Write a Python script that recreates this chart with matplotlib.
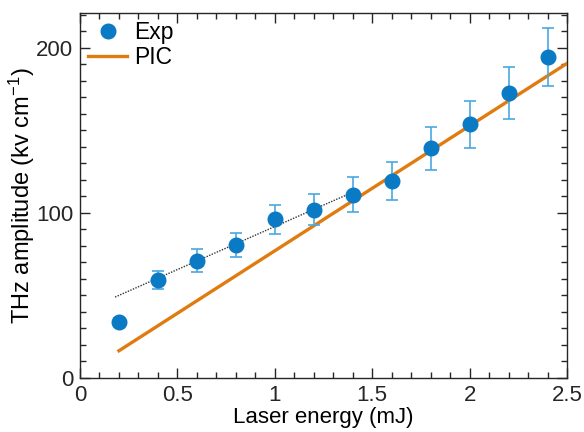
"""THz amplitude vs laser energy: experiment with error bars, PIC line and a dotted fit."""

import matplotlib

matplotlib.use("Agg")
import matplotlib.pyplot as plt
from matplotlib.ticker import FuncFormatter, MultipleLocator

plt.rcParams["font.family"] = ["Liberation Sans", "DejaVu Sans"]
plt.rcParams["mathtext.fontset"] = "custom"
plt.rcParams["mathtext.rm"] = "Liberation Sans"
plt.rcParams["mathtext.default"] = "regular"

energy = [0.2, 0.4, 0.6, 0.8, 1.0, 1.2, 1.4, 1.6, 1.8, 2.0, 2.2, 2.4]
amplitude = [34, 59.5, 71, 80.5, 96, 102, 111, 119, 139, 153.5, 172.5, 194.5]
amp_err = [2.5, 5.5, 7, 7.5, 9, 9.5, 10.5, 11.5, 13, 14, 16, 17.5]

pic_energy = [0.2, 2.5]
pic_amp = [16.5, 190.5]

fit_energy = [0.18, 1.4]
fit_amp = [49, 112.5]

fig = plt.figure(figsize=(5.84, 4.32), dpi=100)
ax = fig.add_axes([0.137, 0.125, 0.834, 0.845])

ax.plot(fit_energy, fit_amp, color="#333333", linestyle=(0, (1, 1)), linewidth=1.0, zorder=2)
ax.plot(pic_energy, pic_amp, color="#E07B10", linewidth=2.4, label="PIC", zorder=3)
ax.errorbar(
    energy,
    amplitude,
    yerr=amp_err,
    fmt="none",
    ecolor="#4AA8E0",
    elinewidth=1.2,
    capsize=4.5,
    capthick=1.2,
    zorder=4,
)
ax.plot(
    energy,
    amplitude,
    "o",
    color="#0A7AC4",
    markersize=10.5,
    label="Exp",
    zorder=5,
)

ax.set_xlim(0, 2.5)
ax.set_ylim(0, 221)
ax.xaxis.set_major_locator(MultipleLocator(0.5))
ax.xaxis.set_minor_locator(MultipleLocator(0.1))
ax.yaxis.set_major_locator(MultipleLocator(100))
ax.yaxis.set_minor_locator(MultipleLocator(10))
ax.xaxis.set_major_formatter(FuncFormatter(lambda v, _: f"{v:g}"))

ax.tick_params(
    which="both", direction="in", top=True, right=True,
    colors="#262626", labelsize=16, pad=5,
)
ax.tick_params(which="major", length=7, width=1)
ax.tick_params(which="minor", length=4, width=1)
for side in ax.spines.values():
    side.set_color("#262626")
    side.set_linewidth(1)

ax.set_xlabel("Laser energy (mJ)", fontsize=16, labelpad=1)
ax.set_ylabel("THz amplitude (kv cm$^{-1}$)", fontsize=17, labelpad=-0.5)

handles, labels = ax.get_legend_handles_labels()
order = [labels.index("Exp"), labels.index("PIC")]
ax.legend(
    [handles[i] for i in order],
    [labels[i] for i in order],
    loc="upper left",
    frameon=False,
    fontsize=16.5,
    handlelength=1.7,
    handletextpad=0.3,
    borderaxespad=0.15,
    borderpad=0.2,
    labelspacing=0.1,
)

fig.savefig("out.png", dpi=100)
